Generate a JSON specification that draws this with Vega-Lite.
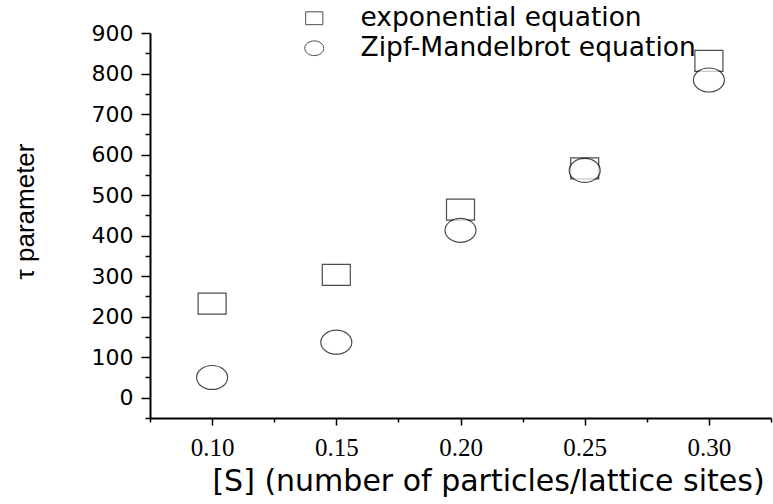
{
  "$schema": "https://vega.github.io/schema/vega-lite/v6.json",
  "width": 621,
  "height": 385,
  "autosize": {"type": "none"},
  "padding": {"left": 150, "top": 33, "right": 2, "bottom": 86},
  "background": "white",
  "config": {"view": {"stroke": null}},
  "data": {
    "values": [
      {"S": 0.10, "tau": 232, "series": "exponential equation"},
      {"S": 0.15, "tau": 303, "series": "exponential equation"},
      {"S": 0.20, "tau": 464, "series": "exponential equation"},
      {"S": 0.25, "tau": 566, "series": "exponential equation"},
      {"S": 0.30, "tau": 831, "series": "exponential equation"},
      {"S": 0.10, "tau": 50, "series": "Zipf-Mandelbrot equation"},
      {"S": 0.15, "tau": 137, "series": "Zipf-Mandelbrot equation"},
      {"S": 0.20, "tau": 413, "series": "Zipf-Mandelbrot equation"},
      {"S": 0.25, "tau": 561, "series": "Zipf-Mandelbrot equation"},
      {"S": 0.30, "tau": 784, "series": "Zipf-Mandelbrot equation"}
    ]
  },
  "mark": {"type": "point", "filled": false, "strokeWidth": 1.2, "size": 961},
  "encoding": {
    "fill": {"value": "white"},
    "stroke": {"value": "black"},
    "fillOpacity": {"value": 1},
    "x": {
      "field": "S",
      "type": "quantitative",
      "scale": {"domain": [0.075, 0.325], "nice": false, "zero": false},
      "axis": {
        "values": [0.075, 0.1, 0.125, 0.15, 0.175, 0.2, 0.225, 0.25, 0.275, 0.3, 0.325],
        "labelExpr": "abs(datum.value*20 - round(datum.value*20)) < 0.001 ? format(datum.value, '.2f') : ''",
        "tickSize": {"condition": {"test": "abs(datum.value*20 - round(datum.value*20)) < 0.001", "value": 7}, "value": 4},
        "tickWidth": 1.5,
        "tickColor": "black",
        "domainColor": "black",
        "domainWidth": 2,
        "grid": false,
        "labelFont": "Liberation Serif",
        "labelFontSize": 25,
        "labelColor": "black",
        "labelPadding": 10,
        "labelFlush": false,
        "labelOverlap": false,
        "title": "[S] (number of particles/lattice sites)",
        "titleFont": "DejaVu Sans",
        "titleFontSize": 30,
        "titleFontWeight": "normal",
        "titleColor": "black",
        "titleX": 338,
        "titleY": 72,
        "titleBaseline": "alphabetic",
        "titleAlign": "center"
      }
    },
    "y": {
      "field": "tau",
      "type": "quantitative",
      "scale": {"domain": [-50, 900], "nice": false, "zero": false},
      "axis": {
        "values": [-50, 0, 50, 100, 150, 200, 250, 300, 350, 400, 450, 500, 550, 600, 650, 700, 750, 800, 850, 900],
        "labelExpr": "datum.value % 100 === 0 ? format(datum.value, 'd') : ''",
        "tickSize": {"condition": {"test": "datum.value % 100 === 0", "value": 9}, "value": 5},
        "tickWidth": 1.5,
        "tickColor": "black",
        "domainColor": "black",
        "domainWidth": 2,
        "grid": false,
        "labelFont": "DejaVu Sans",
        "labelFontSize": 22,
        "labelColor": "black",
        "labelPadding": 8,
        "labelFlush": false,
        "labelOverlap": false,
        "title": "τ parameter",
        "titleFont": "Liberation Sans",
        "titleFontSize": 26,
        "titleFontWeight": "normal",
        "titleColor": "black",
        "titleAngle": -90,
        "titleX": -117,
        "titleY": 178,
        "titleBaseline": "alphabetic",
        "titleAlign": "center"
      }
    },
    "shape": {
      "field": "series",
      "type": "nominal",
      "scale": {
        "domain": ["exponential equation", "Zipf-Mandelbrot equation"],
        "range": ["M-0.903,-0.677L0.903,-0.677L0.903,0.677L-0.903,0.677Z", "M-1,0A1,0.774,0,1,1,1,0A1,0.774,0,1,1,-1,0Z"]
      },
      "legend": {
        "orient": "none",
        "legendX": 151,
        "legendY": -28,
        "title": null,
        "symbolSize": 361,
        "symbolStrokeWidth": 1,
        "labelFont": "DejaVu Sans",
        "labelFontSize": 26.5,
        "labelColor": "black",
        "labelOffset": 33,
        "rowPadding": 3,
        "labelLimit": 400
      }
    }
  }
}
